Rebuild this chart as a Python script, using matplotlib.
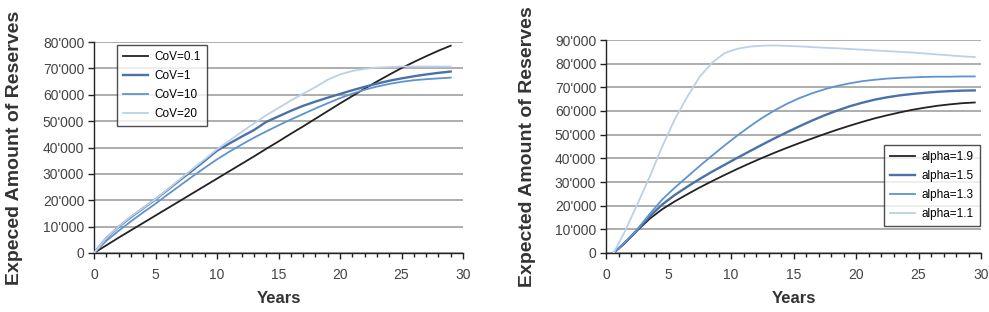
import matplotlib
matplotlib.use("Agg")
import matplotlib.pyplot as plt
from matplotlib.ticker import FuncFormatter, MultipleLocator

plt.rcParams['font.family'] = ['Liberation Sans', 'DejaVu Sans']

# ---- Left chart data (CoV) ----
years_left = [0, 1, 2, 3, 4, 5, 6, 7, 8, 9, 10, 11, 12, 13, 14, 15, 16, 17, 18, 19,
              20, 21, 22, 23, 24, 25, 26, 27, 28, 29]
cov_01 = [0, 2900, 5800, 8600, 11400, 14200, 17000, 19800, 22600, 25400, 28200, 31000,
          33800, 36600, 39500, 42300, 45200, 48000, 50900, 53800, 56700, 59500, 62300,
          65000, 67600, 70100, 72400, 74600, 76700, 78600]
cov_1 = [0, 5600, 9900, 13600, 17000, 20300, 24000, 27700, 31300, 35000, 38800, 41500,
         44100, 46600, 49700, 51800, 53900, 55800, 57400, 58900, 60300, 61700, 63000,
         64200, 65300, 66200, 67000, 67700, 68300, 68800]
cov_10 = [0, 4600, 8400, 12000, 15400, 18700, 22200, 25600, 29000, 32300, 35500, 38400,
          41100, 43700, 46100, 48400, 50600, 52700, 54800, 56800, 58700, 60400, 61900,
          63100, 64100, 64900, 65500, 65900, 66200, 66500]
cov_20 = [0, 5700, 10000, 13800, 17100, 20400, 24200, 28000, 31800, 35500, 39300, 42600,
          45900, 49100, 52200, 55000, 57800, 60400, 62900, 65700, 67700, 69000, 69800,
          70300, 70500, 70700, 70700, 70700, 70700, 70700]
labels_left = ["CoV=0.1", "CoV=1", "CoV=10", "CoV=20"]

# ---- Right chart data (alpha) ----
years_right = [0.6, 1.5, 2.5, 3.5, 4.5, 5.5, 6.5, 7.5, 8.5, 9.5, 10.5, 11.5, 12.5, 13.5,
               14.5, 15.5, 16.5, 17.5, 18.5, 19.5, 20.5, 21.5, 22.5, 23.5, 24.5, 25.5,
               26.5, 27.5, 28.5, 29.5]
alpha_19 = [0, 4100, 9500, 14500, 18500, 21800, 24800, 27700, 30400, 33000, 35500, 37900,
            40200, 42400, 44500, 46500, 48400, 50300, 52100, 53800, 55400, 56900, 58200,
            59400, 60500, 61400, 62200, 62800, 63300, 63600]
alpha_15 = [0, 4300, 9800, 15500, 20500, 24500, 28000, 31300, 34400, 37300, 40200, 43000,
            45800, 48500, 51100, 53600, 56000, 58200, 60200, 62000, 63500, 64800, 65800,
            66600, 67200, 67700, 68100, 68400, 68600, 68700]
alpha_13 = [0, 4500, 10000, 16500, 22600, 27600, 32200, 36800, 41200, 45500, 49600, 53500,
            57100, 60300, 63100, 65500, 67500, 69200, 70600, 71700, 72600, 73200, 73700,
            74000, 74200, 74400, 74500, 74500, 74600, 74600]
alpha_11 = [0, 9000, 20500, 32300, 45000, 56500, 66000, 74500, 80500, 84500, 86300, 87200,
            87600, 87700, 87500, 87300, 87000, 86700, 86500, 86200, 85900, 85600, 85300,
            85000, 84700, 84300, 83900, 83500, 83100, 82800]
labels_right = ["alpha=1.9", "alpha=1.5", "alpha=1.3", "alpha=1.1"]

colors = ["#222222", "#4a72a8", "#5f93cf", "#bcd0e8"]
widths = [1.3, 1.7, 1.3, 1.3]

fig = plt.figure(figsize=(9.89, 3.12), dpi=100)
ax1 = fig.add_axes([94/989, 1-253/312, (463-94)/989, (253-42)/312])
ax2 = fig.add_axes([606/989, 1-253/312, (981-606)/989, (253-40)/312])

fmt = FuncFormatter(lambda v, p: "0" if v == 0 else f"{int(v):,}".replace(",", "'"))

def style(ax, ymax, ylabel, ylab_x):
    ax.set_xlim(0, 30)
    ax.set_ylim(0, ymax)
    ax.yaxis.set_major_locator(MultipleLocator(10000))
    ax.yaxis.set_major_formatter(fmt)
    ax.xaxis.set_major_locator(MultipleLocator(5))
    ax.xaxis.set_minor_locator(MultipleLocator(1))
    ax.grid(axis='y', color='#a0a0a0', linewidth=1.2, zorder=0)
    ax.set_axisbelow(True)
    for s in ['top', 'right']:
        ax.spines[s].set_visible(False)
    for s in ['left', 'bottom']:
        ax.spines[s].set_color('#222222')
        ax.spines[s].set_linewidth(1.0)
    ax.tick_params(axis='both', which='major', labelsize=10, length=4, width=1,
                   colors='#222222', labelcolor='#444444', pad=3)
    ax.tick_params(axis='x', which='minor', length=3, width=1, colors='#222222')
    ax.tick_params(axis='x', which='major', pad=7)
    ax.set_xlabel("Years", fontsize=12, fontweight='bold', color='#333333', labelpad=6)
    ax.set_ylabel(ylabel, fontsize=14, fontweight='bold', color='#333333')
    ax.yaxis.set_label_coords(ylab_x, 0.5)

leg_kw = dict(fontsize=8.5, frameon=True, fancybox=False, edgecolor='#222222',
              handlelength=2.1, borderpad=0.5, labelspacing=0.6, handletextpad=0.6,
              borderaxespad=0.0)

series_left = [cov_01, cov_1, cov_10, cov_20]
for s, c, w, l in zip(series_left, colors, widths, labels_left):
    ax1.plot(years_left, s, color=c, linewidth=w, label=l, zorder=3)
style(ax1, 80000, "Expeced Amount of Reserves", (23-94)/369)
leg1 = ax1.legend(loc='upper left', bbox_to_anchor=(0.062, 0.986), **leg_kw)
leg1.get_frame().set_linewidth(1.0)

series_right = [alpha_19, alpha_15, alpha_13, alpha_11]
for s, c, w, l in zip(series_right, colors, widths, labels_right):
    ax2.plot(years_right, s, color=c, linewidth=w, label=l, zorder=3)
style(ax2, 90000, "Expected Amount of Reserves", (536-606)/375)
leg2 = ax2.legend(loc='lower right', bbox_to_anchor=(0.997, 0.127), **leg_kw)
leg2.get_frame().set_linewidth(1.0)

fig.savefig("out.png", dpi=100)
